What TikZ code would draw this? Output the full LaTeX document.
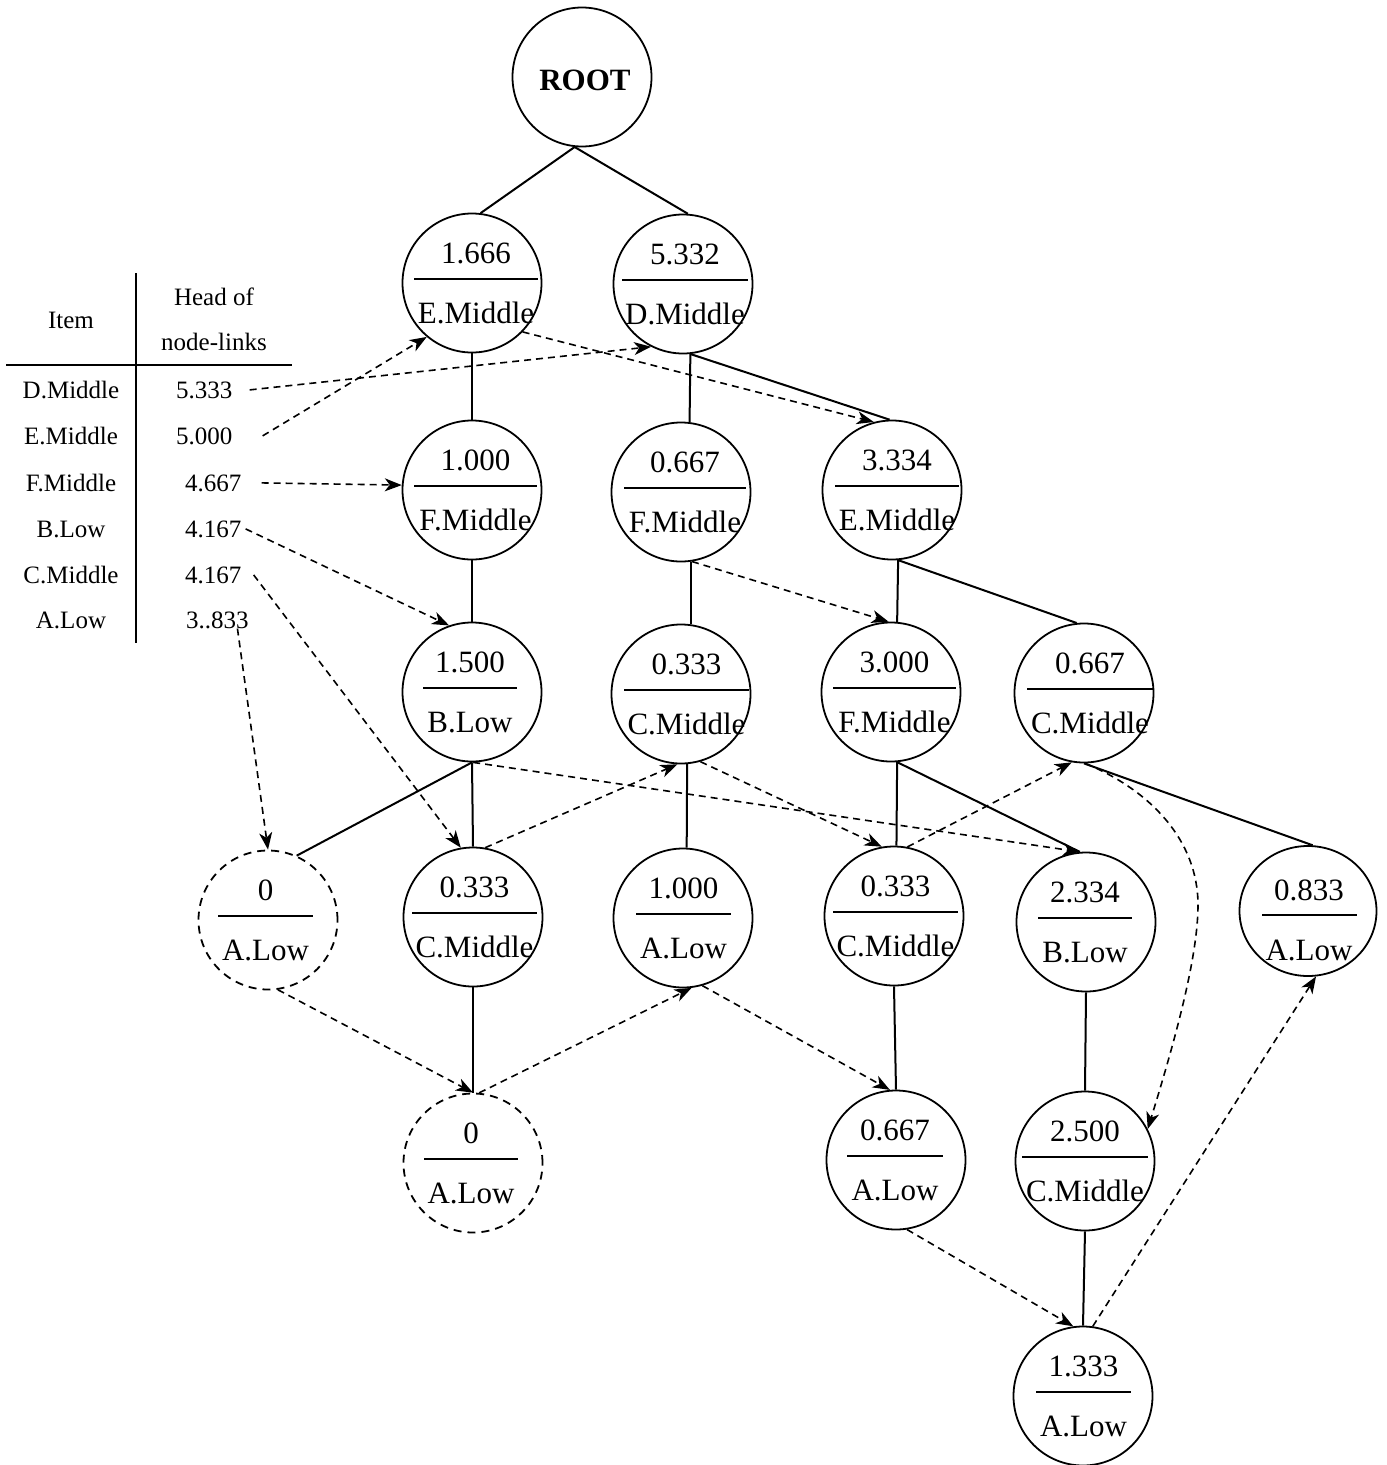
\documentclass[tikz,border=0pt]{standalone}
\usepackage{fontspec}
\setmainfont{Liberation Serif}
\usetikzlibrary{arrows.meta,shapes.geometric}
\newcommand{\nodefont}{\fontsize{31}{36}\selectfont}
\newcommand{\tabfont}{\fontsize{25}{30}\selectfont}
\newcommand{\fpnode}[8]{%
  \node[#6] (#1) at (#2,#3) {};
  \node[txt] (#1n) at ({#2+(#7+#8)/2},{#3-20}) {#4};
  \node[txt] (#1l) at ({#2+(#7+#8)/2},{#3+40}) {#5};
  \draw[sepline] ({#2+#7},{#3-4}) -- ({#2+#8},{#3-4});
}
\begin{document}
\begin{tikzpicture}[x=1pt,y=-1pt,
  fpc/.style={circle, draw, line width=1.8pt, minimum size=139pt, inner sep=0pt},
  fpd/.style={fpc, dash pattern=on 8pt off 6pt},
  txt/.style={font=\nodefont, inner sep=0pt, anchor=base},
  ttxt/.style={font=\tabfont, inner sep=0pt, anchor=base},
  vtxt/.style={font=\tabfont, inner sep=0pt, anchor=base west},
  sepline/.style={line width=1.5pt},
  edge/.style={line width=2pt},
  tabline/.style={line width=1.8pt},
  link/.style={line width=1.6pt, dash pattern=on 7pt off 5pt, -{Stealth[length=17pt,width=13pt,inset=5pt]}}
]
\useasboundingbox (0,0) rectangle (1387,1465);

% root
\node[fpc] (root) at (582,77) {};
\node[txt, font=\nodefont\bfseries] (rootl) at (585,90) {ROOT};

% tree nodes
\fpnode{e1}{472}{283}{1.666}{E.Middle}{fpc}{-58}{66}
\fpnode{d1}{683}{284}{5.332}{D.Middle}{fpc}{-61}{65}
\fpnode{f1}{472}{490}{1.000}{F.Middle}{fpc}{-58}{65}
\fpnode{f2}{681}{492}{0.667}{F.Middle}{fpc}{-57}{65}
\fpnode{e2}{892}{490}{3.334}{E.Middle}{fpc}{-57}{67}
\fpnode{b1}{472}{692}{1.500}{B.Low}{fpc}{-49}{45}
\fpnode{c1}{681}{694}{0.333}{C.Middle}{fpc}{-57}{68}
\fpnode{f3}{891}{692}{3.000}{F.Middle}{fpc}{-58}{65}
\fpnode{c2}{1084}{693}{0.667}{C.Middle}{fpc}{-57}{69}
\fpnode{a1}{268}{920}{0}{A.Low}{fpd}{-50}{45}
\fpnode{c3}{473}{917}{0.333}{C.Middle}{fpc}{-61}{64}
\fpnode{a2}{683}{918}{1.000}{A.Low}{fpc}{-47}{48}
\fpnode{c4}{894}{916}{0.333}{C.Middle}{fpc}{-61}{64}
\fpnode{b2}{1086}{922}{2.334}{B.Low}{fpc}{-48}{46}
\fpnode{a4}{473}{1163}{0}{A.Low}{fpd}{-49}{45}
\fpnode{a5}{896}{1160}{0.667}{A.Low}{fpc}{-49}{47}
\fpnode{c5}{1085}{1161}{2.500}{C.Middle}{fpc}{-63}{63}
\fpnode{a6}{1083}{1396}{1.333}{A.Low}{fpc}{-47}{48}
% slightly oval node
\node[fpc, ellipse, minimum width=137pt, minimum height=130pt] (a3) at (1308,911) {};
\node[txt] (a3n) at (1309,900) {0.833};
\node[txt] (a3l) at (1309,960) {A.Low};
\draw[sepline] (1262,915) -- (1357,915);

% header table
\node[ttxt] (titem) at (71,328) {Item};
\node[ttxt] (th1) at (214,305) {Head of};
\node[ttxt] (th2) at (214,350) {node-links};
\draw[tabline] (6,365) -- (292,365);
\draw[tabline] (136,273) -- (136,643);
\node[ttxt] (i1) at (71,398) {D.Middle};
\node[ttxt] (i2) at (71,444) {E.Middle};
\node[ttxt] (i3) at (71,491) {F.Middle};
\node[ttxt] (i4) at (71,537) {B.Low};
\node[ttxt] (i5) at (71,583) {C.Middle};
\node[ttxt] (i6) at (71,628) {A.Low};
\node[vtxt] (v1) at (176,398) {5.333};
\node[vtxt] (v2) at (176,444) {5.000};
\node[vtxt] (v3) at (185,491) {4.667};
\node[vtxt] (v4) at (185,537) {4.167};
\node[vtxt] (v5) at (185,583) {4.167};
\node[vtxt] (v6) at (186,628) {3..833};

% tree edges
\draw[edge] (root.-96) -- (e1.83);
\draw[edge] (root.-96) -- (d1.86);
\draw[edge] (e1.south) -- (f1.north);
\draw[edge] (d1.-84) -- (f2.83);
\draw[edge] (d1.-84) -- (e2.92);
\draw[edge] (f1.south) -- (b1.north);
\draw[edge] (f2.-82) -- (c1.82);
\draw[edge] (e2.-85) -- (f3.85);
\draw[edge] (e2.-85) -- (c2.96);
\draw[edge] (b1.south) -- (a1.66);
\draw[edge] (b1.south) -- (c3.north);
\draw[edge] (c1.-85) -- (a2.87);
\draw[edge] (f3.-85) -- (c4.88);
\draw[edge] (f3.-85) -- (b2.95);
\draw[edge] (c2.south) -- (a3.86);
\draw[edge] (c3.south) -- (a4.north);
\draw[edge] (c4.south) -- (a5.north);
\draw[edge] (b2.south) -- (c5.north);
\draw[edge] (c5.south) -- (a6.north);

% node-links
\draw[link] ([xshift=17pt]v1.east) -- (d1.-117);
\draw[link] ([xshift=30pt]v2.east) -- (e1.-130);
\draw[link] (e1.-44) -- (e2.105);
\draw[link] ([xshift=20pt]v3.east) -- (f1.176);
\draw[link] ([xshift=4pt]v4.east) -- (b1.109);
\draw[link] ([xshift=12pt]v5.east) -- (c3.100);
\draw[link] ([xshift=20pt]v6.south) -- (a1.north);
\draw[link] (f2.-81) -- (f3.92);
\draw[link] (b1.-89) -- (b2.95);
\draw[link] (c3.80) -- (c1.-93);
\draw[link] (c1.-74) -- (c4.100);
\draw[link] (c4.79) -- (c2.-100);
\draw[link] (c2.-89) .. controls (1150,790) and (1198,840) .. (1198,905)
                     .. controls (1198,960) and (1172,1050) .. (c5.27);
\draw[link] (a1.-82) -- (a4.north);
\draw[link] (a4.85) -- (a2.-83);
\draw[link] (a2.-74) -- (a5.95);
\draw[link] (a5.-81) -- (a6.98);
\draw[link] (a6.82) -- (a3.-83);
\end{tikzpicture}
\end{document}
